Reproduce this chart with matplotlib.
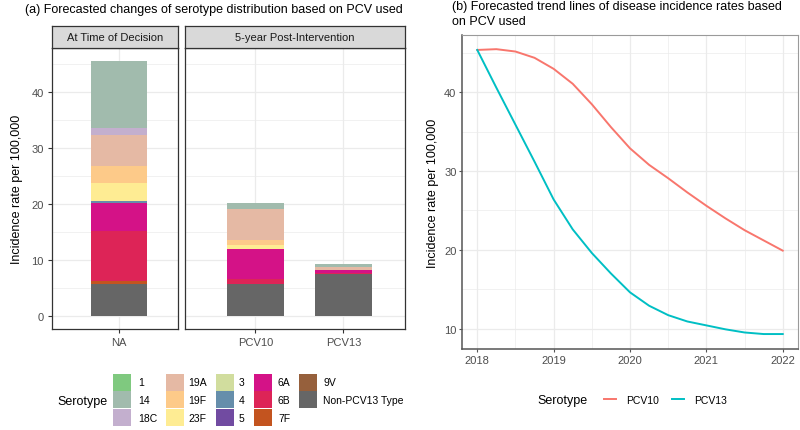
import numpy as np
import matplotlib
matplotlib.use("Agg")
import matplotlib.pyplot as plt
from matplotlib.patches import Rectangle

plt.rcParams['font.family'] = ['Liberation Sans', 'DejaVu Sans']

# ---- data: panel (a) stacked bars ----
serotypes = ['1', '14', '18C', '19A', '19F', '23F', '3', '4', '5',
             '6A', '6B', '7F', '9V', 'Non-PCV13 Type']
sero_colors = ['#7FC97F', '#A1BBAD', '#C3AFCE', '#E5B9A4', '#FDCA89', '#FEEC93',
               '#D1DD9E', '#668EAB', '#714BA1', '#D41287', '#DD2457', '#C3541F',
               '#96603C', '#666666']
na_vals    = [0.0, 11.9, 1.2, 5.5, 3.1, 3.1, 0.1, 0.3, 0.1, 5.0, 8.9, 0.4, 0.1, 5.7]
pcv10_vals = [0.0, 1.0, 0.0, 5.6, 0.9, 0.7, 0.0, 0.0, 0.0, 5.2, 0.9, 0.0, 0.0, 5.8]
pcv13_vals = [0.0, 0.4, 0.0, 0.5, 0.0, 0.0, 0.0, 0.0, 0.0, 0.7, 0.1, 0.0, 0.0, 7.5]

# ---- data: panel (b) trend lines ----
years = [2018, 2018.25, 2018.5, 2018.75, 2019, 2019.25, 2019.5, 2019.75, 2020,
         2020.25, 2020.5, 2020.75, 2021, 2021.25, 2021.5, 2021.75, 2022]
pcv10_trend = [45.4, 45.5, 45.2, 44.4, 43.0, 41.1, 38.5, 35.6, 32.9,
               30.8, 29.1, 27.3, 25.6, 24.0, 22.5, 21.2, 19.9]
pcv13_trend = [45.4, 40.6, 35.9, 31.2, 26.4, 22.6, 19.6, 17.0, 14.6,
               12.9, 11.7, 10.9, 10.4, 9.9, 9.5, 9.3, 9.3]
trend_names = ['PCV10', 'PCV13']
trend_colors = ['#F8766D', '#00BFC4']

W, H = 800, 431
fig = plt.figure(figsize=(W / 100, H / 100), dpi=100)


def px(l, t, r, b):
    return [l / W, 1 - b / H, (r - l) / W, (b - t) / H]


# overlay in pixel coords for titles / legends
ov = fig.add_axes([0, 0, 1, 1], zorder=5)
ov.set_xlim(0, W)
ov.set_ylim(H, 0)
ov.axis('off')

txt_gray = '#4D4D4D'
grid_c = '#EBEBEB'


def style_facet(ax):
    ax.set_facecolor('white')
    ax.set_ylim(-2.3, 47.8)
    ax.set_yticks([0, 10, 20, 30, 40])
    ax.set_yticks([5, 15, 25, 35, 45], minor=True)
    ax.grid(True, which='major', color=grid_c, lw=0.9)
    ax.grid(True, which='minor', axis='y', color=grid_c, lw=0.5)
    ax.set_axisbelow(True)
    for s in ax.spines.values():
        s.set_color('#333333')
        s.set_linewidth(0.9)
    ax.tick_params(axis='both', which='major', length=3, color='#333333',
                   labelsize=8, labelcolor=txt_gray, pad=3)
    ax.tick_params(which='minor', length=0)


def stacked(ax, xpos, cols):
    bottoms = np.zeros(len(xpos))
    for i in range(len(serotypes) - 1, -1, -1):
        vals = np.array([c[i] for c in cols])
        ax.bar(xpos, vals, width=0.64, bottom=bottoms, color=sero_colors[i],
               linewidth=0)
        bottoms += vals


ax1 = fig.add_axes(px(52, 49, 178, 330))
ax2 = fig.add_axes(px(185, 49, 405, 330))
stacked(ax1, [0], [na_vals])
stacked(ax2, [0, 1], [pcv10_vals, pcv13_vals])
for ax in (ax1, ax2):
    style_facet(ax)
ax1.set_xlim(-0.765, 0.675)
ax2.set_xlim(-0.8, 1.7)
ax1.set_xticks([0])
ax1.set_xticklabels(['NA'])
ax2.set_xticks([0, 1])
ax2.set_xticklabels(['PCV10', 'PCV13'])
ax2.tick_params(axis='y', left=False, labelleft=False)
ax1.set_ylabel('Incidence rate per 100,000', fontsize=9, labelpad=6)

# facet strips
for (l, r, label) in [(52, 178, 'At Time of Decision'), (185, 405, '5-year Post-Intervention')]:
    sax = fig.add_axes(px(l, 27, r, 49))
    sax.set_facecolor('#D9D9D9')
    sax.set_xticks([])
    sax.set_yticks([])
    for s in sax.spines.values():
        s.set_color('#333333')
        s.set_linewidth(0.9)
    sax.text(0.5, 0.5, label, ha='center', va='center', fontsize=8, color='#1A1A1A',
             transform=sax.transAxes)

ov.text(25, 10, '(a) Forecasted changes of serotype distribution based on PCV used',
        fontsize=9, va='center', ha='left')

# legend (a), drawn by hand: 5 columns x 3 rows
ov.text(57, 402, 'Serotype', fontsize=9, va='center', ha='left')
key_x = [113, 166, 216, 254, 299]
lab_x = [138, 188, 239, 278, 323]
row_y = [383, 401, 419]
for k, (name, col) in enumerate(zip(serotypes, sero_colors)):
    c, r = divmod(k, 3)
    ov.add_patch(Rectangle((key_x[c], row_y[r] - 8.5), 18, 17, color=col, lw=0))
    ov.text(lab_x[c], row_y[r], name, fontsize=7.5, va='center', ha='left')

# ---- panel (b) ----
axb = fig.add_axes(px(462, 36, 798, 350))
for vals, col in zip([pcv10_trend, pcv13_trend], trend_colors):
    axb.plot(years, vals, color=col, lw=1.4, solid_joinstyle='round')
axb.set_xlim(2017.8, 2022.2)
axb.set_ylim(7.4, 47.3)
axb.set_xticks([2018, 2019, 2020, 2021, 2022])
axb.set_xticks([2018.5, 2019.5, 2020.5, 2021.5], minor=True)
axb.set_yticks([10, 20, 30, 40])
axb.set_yticks([15, 25, 35, 45], minor=True)
axb.grid(True, which='major', color=grid_c, lw=0.9)
axb.grid(True, which='minor', color=grid_c, lw=0.5)
axb.set_axisbelow(True)
for side in ('top', 'right'):
    axb.spines[side].set_color('#9A9A9A')
    axb.spines[side].set_linewidth(0.8)
for side in ('left', 'bottom'):
    axb.spines[side].set_color('#555555')
    axb.spines[side].set_linewidth(1.1)
axb.tick_params(which='major', length=2, color='#555555', labelsize=8,
                labelcolor=txt_gray, pad=2)
axb.tick_params(which='minor', length=0)
axb.set_ylabel('Incidence rate per 100,000', fontsize=9, labelpad=4)

ov.text(452, 7, '(b) Forecasted trend lines of disease incidence rates based',
        fontsize=9, va='center', ha='left')
ov.text(452, 22, 'on PCV used', fontsize=9, va='center', ha='left')

# legend (b)
ov.text(537, 401, 'Serotype', fontsize=9, va='center', ha='left')
for x0, name, col in zip([604, 672], trend_names, trend_colors):
    ov.plot([x0, x0 + 12], [400, 400], color=col, lw=1.4)
    ov.text(x0 + 22, 401, name, fontsize=7.5, va='center', ha='left')

fig.savefig('out.png', dpi=100)
